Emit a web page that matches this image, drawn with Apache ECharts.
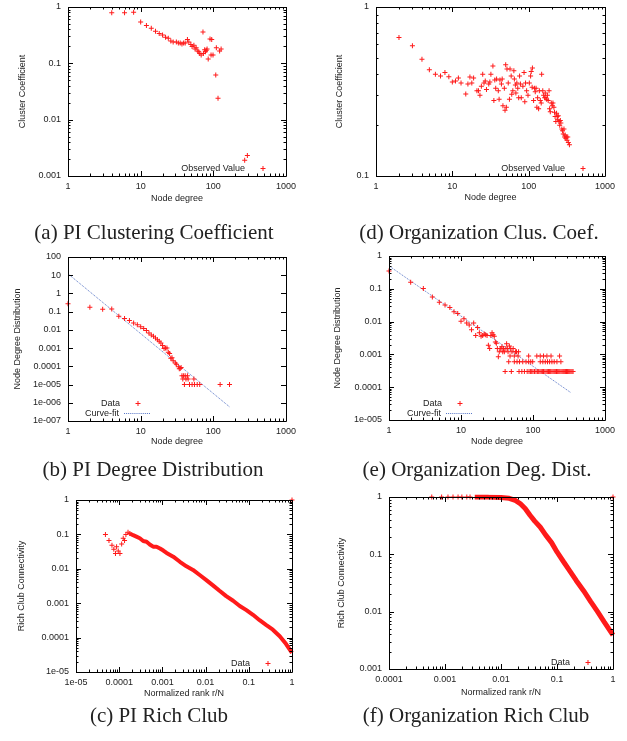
<!DOCTYPE html>
<html><head><meta charset="utf-8">
<script src="https://cdn.jsdelivr.net/npm/echarts@6/dist/echarts.min.js"></script>
<style>html,body{margin:0;padding:0;background:#fff}#c{width:627px;height:741px}</style>
</head><body><div id="c"></div>
<script>
// ---------- data ----------
// (a) PI clustering coefficient
const piClusDeg = [4,6,8,10,12,14,16,18,20,22,24,26,28,31,33,35,37,39,41,44,46,49,51,54,56,58,61,63,65,68,72,73,76,78,80,82,85,90,93,95,99,108,110,116,122,128,270,294];
const piClusVal = [0.79,0.79,0.81,0.54,0.47,0.42,0.37,0.34,0.32,0.29,0.28,0.25,0.24,0.24,0.23,0.23,0.22,0.23,0.23,0.265,0.24,0.215,0.20,0.21,0.18,0.19,0.165,0.16,0.15,0.14,0.36,0.15,0.175,0.16,0.17,0.18,0.119,0.27,0.14,0.265,0.14,0.062,0.19,0.024,0.165,0.18,0.0019,0.0023];
// (d) Organization clustering coefficient
const orgClusDeg = [2,3,4,5,6,7,8,9,10,11,12,13,15,16,17,18,19,21,22,23,24,25,26,27,28,30,31,32,34,35,36,37,38,40,41,42,44,45,46,48,49,50,51,52,54,56,57,59,60,62,64,65,67,68,70,72,74,76,78,80,84,87,89,91,94,98,102,106,108,111,112,116,119,122,125,128,131,135,138,142,146,148,153,157,162,165,168,172,176,180,185,188,192,198,204,208,214,218,222,227,232,236,240,244,250,255,260,264,272,278,284,290,296,300,306,312,318,325,331,342];
const orgClusVal = [0.66,0.59,0.49,0.425,0.40,0.39,0.41,0.386,0.36,0.365,0.38,0.355,0.306,0.35,0.385,0.355,0.38,0.32,0.32,0.30,0.34,0.40,0.355,0.365,0.325,0.35,0.36,0.40,0.447,0.28,0.37,0.33,0.375,0.32,0.285,0.37,0.35,0.375,0.26,0.33,0.245,0.455,0.255,0.43,0.355,0.285,0.43,0.39,0.305,0.32,0.42,0.375,0.345,0.31,0.355,0.33,0.29,0.39,0.35,0.29,0.34,0.41,0.275,0.355,0.32,0.30,0.355,0.39,0.415,0.335,0.435,0.28,0.33,0.315,0.33,0.255,0.29,0.25,0.32,0.28,0.27,0.40,0.32,0.30,0.29,0.31,0.29,0.285,0.30,0.28,0.32,0.25,0.24,0.27,0.26,0.27,0.255,0.238,0.225,0.21,0.235,0.225,0.215,0.227,0.21,0.20,0.213,0.206,0.19,0.185,0.177,0.19,0.17,0.175,0.167,0.17,0.163,0.17,0.158,0.153];
// (b) PI degree distribution
const piDegX = [1,2,3,4,5,6,7,8,9,10,11,12,13,14,15,16,17,18,19,20,21,22,23,24,25,26,27,28,30,31,33,34,35,36,37,38,39,40,41,42,44,45,47,51,54,55,60,65,124,167];
const piDegP = [0.27,0.177,0.137,0.14,0.056,0.042,0.033,0.024,0.019,0.015,0.012,0.0092,0.0068,0.0053,0.0045,0.0036,0.0029,0.0024,0.0019,0.0014,0.00094,0.001,0.001,0.00059,0.0005,0.00028,0.0003,0.0002,0.00015,0.00013,0.000096,0.000074,0.000076,0.000087,0.00003,0.00002,0.00003,0.00001,0.00003,0.00002,0.00003,0.00002,0.00001,0.00001,0.00002,0.00001,0.00001,0.00001,0.00001,0.00001];
const piFitX = [1,167];
const piFitP = [12,6e-7];
// (e) Organization degree distribution
const orgDegX = [1,2,3,4,5,6,7,8,9,10,11,12,13,14,15,16,17,18,19,20,21,22,23,24,25,26,27,28,29,30,31,32,33,34,35,36,37,38,39,40,42,43,44,45,47,49,51,53,57,59,63,
  41,50,64,70,76,83,88,92,96,100,105,110,115,120,125,130,135,140,146,152,158,164,170,176,183,190,197,204,212,220,228,236,245,254,263,272,282,292,302,313,324,336,348,360,
  46,55,60,65,72,80,87,93,99,126,137,148,159,170,183,197,215,244,
  48,55,62,87,113,126,140,156,178,234];
const orgDegP = [0.35,0.157,0.103,0.056,0.039,0.032,0.027,0.020,0.0178,0.0103,0.0122,0.009,0.0079,0.0056,0.0091,0.0038,0.0066,0.0046,0.0036,0.0038,0.0042,0.004,0.0038,0.0019,0.0015,0.0038,0.0046,0.004,0.0036,0.0024,0.0022,0.0015,0.00085,0.0012,0.0015,0.0015,0.0017,0.0012,0.0015,0.0012,0.0015,0.0021,0.0015,0.0012,0.0018,0.0015,0.0012,0.0015,0.0012,0.0012,0.0012,
  0.0003,0.0003,0.0003,0.0003,0.0003,0.0003,0.0003,0.0003,0.0003,0.0003,0.0003,0.0003,0.0003,0.0003,0.0003,0.0003,0.0003,0.0003,0.0003,0.0003,0.0003,0.0003,0.0003,0.0003,0.0003,0.0003,0.0003,0.0003,0.0003,0.0003,0.0003,0.0003,0.0003,0.0003,0.0003,0.0003,0.0003,0.0003,0.0003,0.0003,0.0003,0.0003,0.0003,0.0003,
  0.0006,0.0006,0.0006,0.0006,0.0006,0.0006,0.0006,0.0006,0.0006,0.0006,0.0006,0.0006,0.0006,0.0006,0.0006,0.0006,0.0006,0.0006,
  0.0009,0.0009,0.0009,0.0009,0.0009,0.0009,0.0009,0.0009,0.0009,0.0009];
const orgFitX = [1,330];
const orgFitP = [0.5,7e-5];
// (c) PI rich club
const piRcSparseX = [4.8e-5,5.8e-5,6.8e-5,7.5e-5,8.2e-5,8.7e-5,9.5e-5,1.04e-4,1.14e-4,1.24e-4,1.33e-4,1.43e-4,1.6e-4,1.76e-4,1];
const piRcSparseY = [0.1,0.066,0.048,0.037,0.028,0.044,0.033,0.028,0.053,0.077,0.066,0.1,0.115,0.107,1];
const piRcX = [1.76e-4,2.1e-4,2.5e-4,3.0e-4,3.6e-4,4.3e-4,5.1e-4,6.1e-4,7.3e-4,8.8e-4,1.05e-3,1.25e-3,1.78e-3,2.54e-3,3.6e-3,5.1e-3,7.3e-3,0.0104,0.0148,0.021,0.03,0.0434,0.0618,0.088,0.125,0.178,0.255,0.36,0.52,0.73,1];
const piRcY = [0.107,0.095,0.086,0.077,0.064,0.061,0.051,0.044,0.044,0.039,0.034,0.029,0.0225,0.016,0.0118,0.0093,0.0066,0.0047,0.0033,0.0023,0.0016,0.00118,0.00083,0.00063,0.00046,0.00032,0.00023,0.00017,0.00011,0.000065,0.000036];
// (f) Organization rich club
const orgRcSparseX = [5.8e-4,8.7e-4,1.13e-3,1.39e-3,1.71e-3,2.0e-3,2.45e-3,2.8e-3,1];
const orgRcSparseY = [1,1,1,1,1,1,1,1,1];
const orgRcX = [0.0034,0.006,0.01,0.014,0.018,0.022,0.027,0.033,0.04,0.05,0.063,0.08,0.1,0.13,0.17,0.22,0.3,0.4,0.53,0.7,1];
const orgRcY = [1,0.995,0.98,0.95,0.87,0.77,0.63,0.48,0.38,0.30,0.216,0.16,0.11,0.075,0.051,0.035,0.023,0.015,0.01,0.0066,0.0039];
// tick labels
const degTicks = ['1','10','100','1000'];
const clusATicks = ['0.001','0.01','0.1','1'];
const clusDTicks = ['0.1','1'];
const degBTicks = ['1e-007','1e-006','1e-005','0.0001','0.001','0.01','0.1','1','10','100'];
const degETicks = ['1e-005','0.0001','0.001','0.01','0.1','1'];
const rankCTicks = ['1e-05','0.0001','0.001','0.01','0.1','1'];
const richCTicks = ['1e-05','0.0001','0.001','0.01','0.1','1'];
const rankFTicks = ['0.0001','0.001','0.01','0.1','1'];
const richFTicks = ['0.001','0.01','0.1','1'];
const captions = ['(a) PI Clustering Coefficient','(d) Organization Clus. Coef.','(b) PI Degree Distribution','(e) Organization Deg. Dist.','(c) PI Rich Club','(f) Organization Rich Club'];

// ---------- layout ----------
const FONT = '"Liberation Sans", Arial, sans-serif';
const RED = '#ff1a1a';
const BLUE = '#5a78c8';
const plusPath = 'path://M2,0H3V2H5V3H3V5H2V3H0V2H2Z';
let dotted = 'path://';
for (let k = 0; k < 13; k++) dotted += 'M' + (2 * k) + ',0h1v1h-1z';
const zip = (xs, ys) => xs.map((x, i) => [x, ys[i]]);

const panels = [
  {grid:{left:68,top:7,width:218,height:169}, xr:[1,1000], yr:[0.001,1], xl:degTicks, yl:clusATicks, xn:'Node degree', yn:'Cluster Coefficient', xg:18, yg:41, yMinor:true},
  {grid:{left:376,top:7,width:229,height:169}, xr:[1,1000], yr:[0.1,1], xl:degTicks, yl:clusDTicks, xn:'Node degree', yn:'Cluster Coefficient', xg:17, yg:32, yMinor:true},
  {grid:{left:68,top:257,width:218,height:164}, xr:[1,1000], yr:[1e-7,100], xl:degTicks, yl:degBTicks, xn:'Node degree', yn:'Node Degree Distribution', xg:16, yg:46, yMinor:false},
  {grid:{left:389,top:256,width:216,height:164}, xr:[1,1000], yr:[1e-5,1], xl:degTicks, yl:degETicks, xn:'Node degree', yn:'Node Degree Distribution', xg:17, yg:47, yMinor:true},
  {grid:{left:76,top:500,width:216,height:172}, xr:[1e-5,1], yr:[1e-5,1], xl:rankCTicks, yl:richCTicks, xn:'Normalized rank r/N', yn:'Rich Club Connectivity', xg:17, yg:50, yMinor:true},
  {grid:{left:389,top:497,width:224,height:172}, xr:[1e-4,1], yr:[1e-3,1], xl:rankFTicks, yl:richFTicks, xn:'Normalized rank r/N', yn:'Rich Club Connectivity', xg:19, yg:43, yMinor:true}
];
const capPos = [[154,233],[479,233],[153,470],[477,470],[159,716],[476,716]];

function logAxis(p, i, isY) {
  const r = isY ? p.yr : p.xr, labels = isY ? p.yl : p.xl;
  const e0 = Math.round(Math.log10(r[0]));
  return {
    type:'log', logBase:10, gridIndex:i, min:r[0], max:r[1], interval:1,
    name: isY ? p.yn : p.xn, nameLocation:'middle', nameGap: isY ? p.yg : p.xg,
    nameTextStyle:{fontFamily:FONT, fontSize:9, color:'#222'},
    axisLine:{show:false}, axisTick:{show:false}, splitLine:{show:false}, minorTick:{show:false},
    axisPointer:{show:false},
    axisLabel:{show:true, interval:0, showMinLabel:true, showMaxLabel:true, margin: isY ? 7 : 6,
      fontFamily:FONT, fontSize:9, color:'#222',
      formatter: v => labels[Math.round(Math.log10(v)) - e0]}
  };
}

function tickSeries(p, i) {
  return {
    type:'custom', xAxisIndex:i, yAxisIndex:i, silent:true, clip:false, z:5,
    emphasis:{disabled:true},
    data:[[p.xr[0], p.yr[0]]],
    renderItem:(params, api) => {
      const cs = params.coordSys, x0 = cs.x, y0 = cs.y, w = cs.width, h = cs.height;
      const st = {stroke:'#000', lineWidth:1};
      const ch = [];
      const ex0 = Math.round(Math.log10(p.xr[0])), ex1 = Math.round(Math.log10(p.xr[1]));
      for (let e = ex0; e <= ex1; e++) for (let m = 1; m <= 9; m++) {
        if (e === ex1 && m > 1) break;
        const px = Math.round(api.coord([m * Math.pow(10, e), p.yr[0]])[0]) + 0.5;
        const L = m === 1 ? 5 : 2.5;
        ch.push({type:'line', shape:{x1:px, y1:y0 + h, x2:px, y2:y0 + h - L}, style:st});
        ch.push({type:'line', shape:{x1:px, y1:y0, x2:px, y2:y0 + L}, style:st});
      }
      const ey0 = Math.round(Math.log10(p.yr[0])), ey1 = Math.round(Math.log10(p.yr[1]));
      for (let e = ey0; e <= ey1; e++) for (let m = 1; m <= 9; m++) {
        if (e === ey1 && m > 1) break;
        if (m > 1 && !p.yMinor) continue;
        const py = Math.round(api.coord([p.xr[0], m * Math.pow(10, e)])[1]) + 0.5;
        const L = m === 1 ? 5 : 2.5;
        ch.push({type:'line', shape:{x1:x0, y1:py, x2:x0 + L, y2:py}, style:st});
        ch.push({type:'line', shape:{x1:x0 + w, y1:py, x2:x0 + w - L, y2:py}, style:st});
      }
      ch.push({type:'rect', shape:{x:x0 + 0.5, y:y0 + 0.5, width:w, height:h}, style:{stroke:'#000', fill:null, lineWidth:1}});
      return {type:'group', children:ch};
    }
  };
}

const common = {silent:true, emphasis:{disabled:true}, z:3};
const scatter = (name, i, data) => Object.assign({type:'scatter', name, xAxisIndex:i, yAxisIndex:i, data, symbol:plusPath, symbolSize:5, itemStyle:{color:RED, opacity:1}}, common);
const thick = (name, i, data, w) => Object.assign({type:'line', name, xAxisIndex:i, yAxisIndex:i, data, symbol:'none', showSymbol:false, lineStyle:{color:RED, width:w}, itemStyle:{color:RED}}, common);
const fit = (i, data) => Object.assign({type:'line', name:'Curve-fit', xAxisIndex:i, yAxisIndex:i, data, symbol:'none', showSymbol:false, lineStyle:{color:BLUE, width:1, type:'dotted'}, itemStyle:{color:BLUE}}, common, {z:2});

const legendBase = {orient:'horizontal', align:'right', itemWidth:26, itemHeight:5, padding:0, selectedMode:false,
  symbolKeepAspect:true, textStyle:{fontFamily:FONT, fontSize:9, color:'#222'}};
const leg = (name, right, top, icon, color) => Object.assign({}, legendBase, {right, top,
  data:[{name, icon, itemStyle:{color}}]});

const option = {
  animation:false,
  backgroundColor:'#fff',
  grid: panels.map(p => Object.assign({containLabel:false}, p.grid)),
  xAxis: panels.map((p, i) => logAxis(p, i, false)),
  yAxis: panels.map((p, i) => logAxis(p, i, true)),
  legend: [
    leg('Observed Value', 361.5, 164, plusPath, RED),
    leg('Observed Value', 41.5, 164, plusPath, RED),
    leg('Data', 486.5, 399, plusPath, RED),
    leg('Curve-fit', 477, 409, dotted, BLUE),
    leg('Data', 164.5, 399, plusPath, RED),
    leg('Curve-fit', 155, 409, dotted, BLUE),
    leg('Data', 356.5, 659, plusPath, RED),
    leg('Data', 36.5, 658, plusPath, RED)
  ],
  series: [
    scatter('Observed Value', 0, zip(piClusDeg, piClusVal)),
    scatter('Observed Value', 1, zip(orgClusDeg, orgClusVal)),
    scatter('Data', 2, zip(piDegX, piDegP)),
    fit(2, zip(piFitX, piFitP)),
    scatter('Data', 3, zip(orgDegX, orgDegP)),
    fit(3, zip(orgFitX, orgFitP)),
    scatter('Data', 4, zip(piRcSparseX, piRcSparseY)),
    thick('Data', 4, zip(piRcX, piRcY), 4),
    scatter('Data', 5, zip(orgRcSparseX, orgRcSparseY)),
    thick('Data', 5, zip(orgRcX, orgRcY), 5)
  ].concat(panels.map((p, i) => tickSeries(p, i))),
  graphic: captions.map((t, i) => ({type:'text', x:capPos[i][0], y:capPos[i][1], silent:true,
    style:{text:t, font:'21px "Liberation Serif", "Times New Roman", serif', fill:'#222', align:'center', verticalAlign:'middle'}}))
};
const chart = echarts.init(document.getElementById('c'), null, {renderer:'canvas'});
chart.setOption(option);
</script></body></html>
